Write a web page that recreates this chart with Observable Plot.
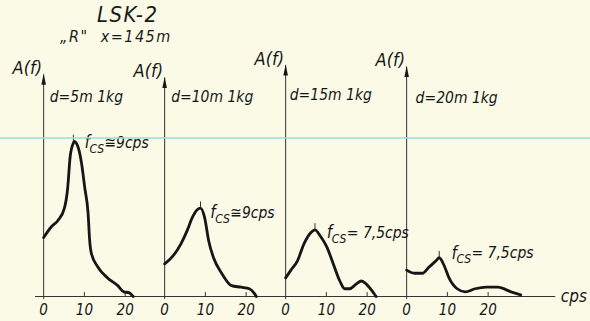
<!DOCTYPE html>
<html><head><meta charset="utf-8">
<script src="https://cdn.jsdelivr.net/npm/d3@7"></script>
<script src="https://cdn.jsdelivr.net/npm/@observablehq/plot@0.6"></script>
<style>
body{margin:0;background:#fafae7;}
#wrap{position:relative;width:590px;height:321px;overflow:hidden;font-family:"DejaVu Sans Condensed","DejaVu Sans",sans-serif;font-style:italic;color:#1a1a1a;}
#head{height:50px;position:relative;}
#t1{position:absolute;left:97px;top:2px;font-size:22px;letter-spacing:1.5px;}
#t2{position:absolute;left:60px;top:27px;font-size:16px;white-space:pre;letter-spacing:1.5px;}
#scan{position:absolute;left:0;top:137px;width:590px;height:1.5px;background:#8fe3da;opacity:.75;}
#plot svg{display:block;overflow:visible;}
</style></head>
<body>
<div id="wrap">
  <div id="head"><div id="t1">LSK-2</div><div id="t2">„R"  x=145m</div></div>
  <div id="plot"></div>
  <div id="scan"></div>
</div>
<script>
// Panels (shot distance, charge)
const panels = ["d=5m 1kg", "d=10m 1kg", "d=15m 1kg", "d=20m 1kg"];

// Spectrum A(f): frequency (cps) and amplitude (relative)
const freq1 = [0, 1.9, 3.5, 5.1, 5.9, 6.5, 7.3, 7.5, 8.5, 9.3, 10.1, 10.9, 11.3, 11.7, 13.3, 15.7, 18.2, 19.7, 20.9, 22];
const amp1  = [38, 45, 49, 57, 70, 90, 99, 100, 96, 86, 70, 54, 36, 28, 19, 12, 7, 3, 2.5, 0];
const freq2 = [0, 2, 4, 5.6, 6.8, 8, 8.8, 9.8, 10.8, 12, 14, 16.4, 18.8, 20.8, 22, 22.5];
const amp2  = [21, 26, 34, 43, 51, 56, 57, 51, 36, 25, 15, 7, 6, 5, 2, 0];
const freq3 = [0, 1.3, 2.9, 4.5, 6.1, 7.2, 8.5, 10.1, 11.7, 13.3, 14.5, 15.7, 17.3, 18.6, 19.8, 21.4, 22.2];
const amp3  = [12, 17, 23, 34, 41, 43, 39, 32, 21, 10, 5, 5, 8, 10, 8, 3, 0];
const freq4 = [0, 1.9, 3.9, 5.5, 7.2, 8, 9.2, 10.4, 12.4, 14.4, 16.8, 19.6, 22.4, 25.6, 28];
const amp4  = [17, 15, 15, 19, 23, 25, 20, 12, 5, 3, 5, 6, 6, 3, 1];

// Dominant frequency markers and annotations
const peakFreq = [7.3, 8.8, 7.2, 8];
const peakAmp  = [100, 57, 43, 25];
const fcsText  = ["≅9cps", "≅9cps", "= 7,5cps", "= 7,5cps"];
const fcsFreq  = [10, 11.2, 10.1, 11];
const fcsAmp   = [99, 54, 41, 28];

// Axis decorations
const axisTop  = [143, 141, 149, 148];
const baseEnd  = [27.7, 27.7, 27.7, 36.6];
const dFreq    = [1.5, 1.6, 1.0, 2.2];
const dAmp     = [129, 129, 130, 128];
const xTicks   = [0, 10, 20];
const unitLabel = "cps";
const yLabel = "A(f)";

const series = [[freq1, amp1], [freq2, amp2], [freq3, amp3], [freq4, amp4]];
const rows = series.flatMap(([f, a], i) => f.map((v, j) => ({panel: panels[i], f: v, a: a[j]})));
const info = panels.map((p, i) => ({
  panel: p, top: axisTop[i], end: baseEnd[i], dF: dFreq[i], dA: dAmp[i],
  pf: peakFreq[i], pa: peakAmp[i], ft: fcsText[i], ff: fcsFreq[i], fa: fcsAmp[i], last: i === panels.length - 1
}));

const arrowHead = {draw(ctx) { ctx.moveTo(0, -1); ctx.lineTo(2.3, 10); ctx.lineTo(-2.3, 10); ctx.closePath(); }};
const ink = "#161616";

const chart = Plot.plot({
  width: 590, height: 271,
  marginLeft: 33.8, marginRight: 69.5, marginTop: 0, marginBottom: 25,
  style: {background: "transparent", fontFamily: '"DejaVu Sans Condensed","DejaVu Sans",sans-serif', fontStyle: "italic", color: ink, overflow: "visible"},
  fx: {domain: panels, padding: 0, axis: null},
  x: {domain: [-2, 27.7]},
  y: {domain: [0, 158.7], axis: null},
  marks: [
    Plot.ruleY(info, {fx: "panel", y: () => 0, x1: () => -2, x2: "end", stroke: "#333", strokeWidth: 1}),
    Plot.ruleX(info, {fx: "panel", x: () => 0, y1: () => -2, y2: "top", stroke: "#333", strokeWidth: 1}),
    Plot.dot(info, {fx: "panel", x: () => 0, y: "top", symbol: arrowHead, fill: ink, stroke: null}),
    Plot.ruleX(xTicks.slice(1), {x: d => d, y1: () => 0, y2: () => 2.5, stroke: "#333", strokeWidth: 1}),
    Plot.axisX({ticks: xTicks, tickSize: 0, tickPadding: 8, fontSize: 15, tickFormat: d => String(d)}),
    Plot.text(info, {fx: "panel", x: () => -0.4, y: "top", text: () => yLabel, textAnchor: "end", lineAnchor: "bottom", dy: -1, fontSize: 18, letterSpacing: "0.5px"}),
    Plot.text(info, {fx: "panel", x: "dF", y: "dA", text: "panel", textAnchor: "start", fontSize: 15.5}),
    Plot.line(rows, {fx: "panel", x: "f", y: "a", curve: "monotone-x", stroke: ink, strokeWidth: 2.8, strokeLinejoin: "round", strokeLinecap: "round"}),
    Plot.ruleX(info, {fx: "panel", x: "pf", y1: "pa", y2: d => d.pa + 4, stroke: "#333", strokeWidth: 1}),
    Plot.text(info, {fx: "panel", x: "ff", y: "fa", text: () => "f", textAnchor: "start", fontSize: 17}),
    Plot.text(info, {fx: "panel", x: "ff", y: "fa", text: () => "CS", textAnchor: "start", dx: 5, dy: 6, fontSize: 12}),
    Plot.text(info, {fx: "panel", x: "ff", y: "fa", text: "ft", textAnchor: "start", dx: 20, fontSize: 15.5}),
    Plot.text(info.filter(d => d.last), {fx: "panel", x: "end", y: () => 0, text: () => unitLabel, textAnchor: "start", dx: 5, fontSize: 17, letterSpacing: "1px"})
  ]
});
document.getElementById("plot").appendChild(chart);
</script>
</body></html>
